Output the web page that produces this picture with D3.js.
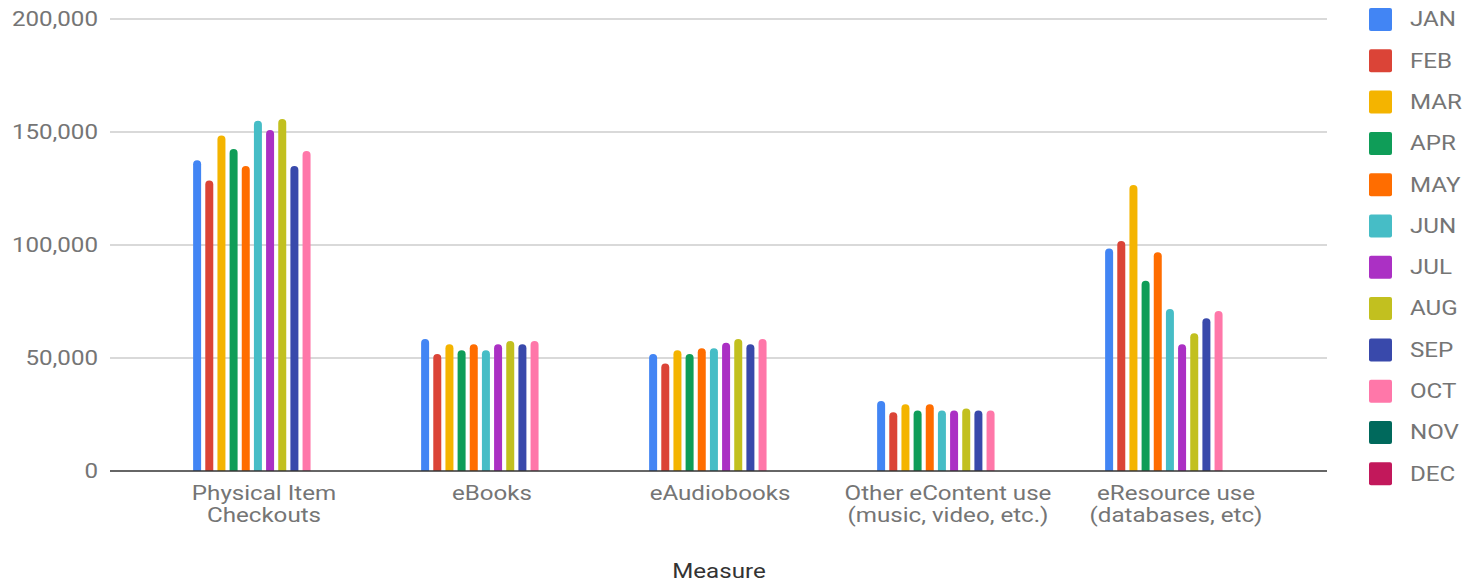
<!DOCTYPE html>
<html><head><meta charset="utf-8">
<script src="https://cdn.jsdelivr.net/npm/d3@7"></script>
<style>body{margin:0;background:#fff;font-family:Roboto,"Noto Sans",sans-serif;}</style>
</head><body><svg id="c" width="1468" height="583"></svg>
<script>
const categories = ["Physical Item\nCheckouts","eBooks","eAudiobooks","Other eContent use\n(music, video, etc.)","eResource use\n(databases, etc)"];
const months = ["JAN","FEB","MAR","APR","MAY","JUN","JUL","AUG","SEP","OCT","NOV","DEC"];
const colors = ["#4285F4","#DB4437","#F4B400","#0F9D58","#FF6D00","#46BDC6","#AB30C4","#C2C01F","#3949AB","#FF77A9","#00695C","#C2185B"];
const physical   = [137500,128500,148400,142500,135000,155000,150900,155800,135000,141600,null,null];
const ebooks     = [58400,51800,56100,53400,56100,53400,56100,57500,56100,57500,null,null];
const eaudio     = [51800,47600,53400,51800,54300,54300,56800,58400,56100,58400,null,null];
const econtent   = [31000,26000,29500,26800,29500,26800,26800,27700,26800,26800,null,null];
const eresource  = [98400,101800,126500,84200,96800,71700,56100,60900,67600,70800,null,null];
const series = [physical, ebooks, eaudio, econtent, eresource];
const yTicks = [0,50000,100000,150000,200000];

(function(){
const svg = d3.select("#c");
const gridL = 110, gridR = 1327, plotTop = 19, base = 471;
const FS = 21, SX = 1.15;
const tf = (x,y)=>`translate(${x},${y}) scale(${SX},1)`;
const y = d3.scaleLinear().domain([0,200000]).range([base, plotTop]);
const x0 = d3.scaleBand().domain(categories).range([150,1290]).paddingInner(0.36).paddingOuter(0.18);
const x1 = d3.scaleBand().domain(months).range([0, x0.bandwidth()]);
const bw = 8;

svg.append("g").selectAll("line").data(yTicks.filter(d=>d>0)).join("line")
  .attr("x1",gridL).attr("x2",gridR).attr("y1",d=>y(d)).attr("y2",d=>y(d))
  .attr("stroke","#cccccc").attr("stroke-width",1.5);
const fmt = d3.format(",");
svg.append("g").selectAll("text").data(yTicks).join("text")
  .attr("transform",d=>tf(98,y(d))).attr("dy","0.35em").attr("text-anchor","end")
  .attr("font-size",FS).attr("fill","#757575").text(d=>fmt(d));

const g = svg.append("g");
categories.forEach((c,ci)=>{
  months.forEach((m,mi)=>{
    const v = series[ci][mi];
    if (v==null) return;
    const cx = x0(c) + x1(m) + x1.bandwidth()/2;
    const xl = cx - bw/2, yt = y(v), r = bw/2;
    g.append("path")
      .attr("d",`M${xl},${base}V${yt+r}A${r},${r} 0 0 1 ${xl+bw},${yt+r}V${base}Z`)
      .attr("fill",colors[mi]);
  });
});
svg.append("line").attr("x1",gridL).attr("x2",gridR).attr("y1",base).attr("y2",base)
  .attr("stroke","#333333").attr("stroke-width",1.5);

svg.append("g").selectAll("text").data(categories).join("text")
  .attr("transform",d=>tf(x0(d)+x0.bandwidth()/2,500)).attr("text-anchor","middle")
  .attr("font-size",FS).attr("fill","#757575")
  .each(function(d){
    const t=d3.select(this);
    d.split("\n").forEach((line,i)=>t.append("tspan").attr("x",0).attr("dy",i?"1.07em":0).text(line));
  });
svg.append("text").attr("transform",tf(719,578)).attr("text-anchor","middle")
  .attr("font-size",FS).attr("fill","#333333").text("Measure");

const lg = svg.append("g").selectAll("g").data(months).join("g")
  .attr("transform",(d,i)=>`translate(1369,${19+i*41.3})`);
lg.append("rect").attr("x",0).attr("y",-11).attr("width",23).attr("height",23).attr("rx",2)
  .attr("fill",(d,i)=>colors[i]);
lg.append("text").attr("transform",tf(41,0)).attr("dy","0.35em").attr("font-size",FS)
  .attr("fill","#757575").text(d=>d);
})();
</script></body></html>
